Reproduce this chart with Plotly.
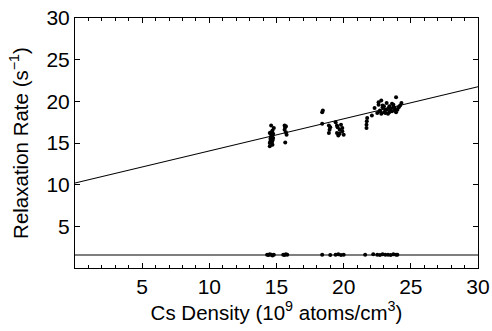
import plotly.graph_objects as go

# Upper branch (measured relaxation rates)
up_x = [14.5, 14.5, 14.55, 14.55, 14.6, 14.6, 14.6, 14.65, 14.65, 14.7, 14.7, 14.7, 14.75, 14.75, 14.8, 14.5, 14.6, 14.7,
        15.6, 15.65, 15.7, 15.75, 15.6, 15.7, 15.65,
        18.4, 18.45, 18.4,
        18.9, 18.95, 18.9, 19.0,
        19.4, 19.5, 19.55, 19.6, 19.7, 19.8, 19.9, 20.0, 19.5, 19.7, 19.9,
        21.7, 21.7, 21.72, 21.75,
        22.1, 22.3, 22.5, 22.6, 22.7, 22.8, 22.9, 23.0, 23.1, 23.2, 23.3, 23.4, 23.5, 23.6, 23.7, 23.8, 23.9, 24.0, 24.2, 24.3,
        22.7, 22.9, 23.1, 23.3, 23.5, 23.7, 23.9, 22.6, 22.8, 23.0, 23.2, 23.4, 23.6, 23.8, 24.1]
up_y = [14.6, 15.0, 15.2, 15.5, 15.7, 16.0, 16.3, 15.1, 15.8, 16.5, 15.4, 14.8, 16.1, 15.6, 16.8, 16.2, 17.1, 15.3,
        17.1, 16.9, 16.3, 16.0, 16.6, 17.0, 15.05,
        18.7, 18.9, 17.3,
        16.2, 16.6, 17.1, 16.9,
        17.5, 16.2, 16.9, 15.9, 16.6, 17.2, 16.4, 16.0, 17.1, 16.1, 16.8,
        16.8, 17.2, 17.6, 18.0,
        18.3, 19.2, 18.6, 19.6, 18.9, 20.1, 19.3, 18.7, 19.0, 19.8, 18.5, 19.4, 19.1, 18.8, 19.6, 19.2, 20.5, 19.0, 19.5, 19.8,
        18.8, 19.5, 18.6, 19.1, 18.9, 19.3, 18.7, 19.9, 18.5, 19.4, 19.0, 18.7, 19.7, 18.9, 19.3]

# Lower branch
lo_x = [14.3, 14.4, 14.5, 14.6, 14.7, 14.8, 15.5, 15.6, 15.7, 15.8, 18.4, 19.0, 19.4, 19.6, 19.8, 20.0,
        21.6, 22.2, 22.5, 22.7, 22.9, 23.1, 23.3, 23.5, 23.7, 23.9, 24.0]
lo_y = [1.6, 1.55, 1.65, 1.6, 1.5, 1.6, 1.6, 1.55, 1.65, 1.6, 1.6, 1.55, 1.6, 1.65, 1.55, 1.6,
        1.6, 1.65, 1.6, 1.55, 1.65, 1.6, 1.6, 1.55, 1.65, 1.6, 1.6]

# Fit lines
fit_x = [0, 30]
fit_up = [10.2, 21.75]
fit_lo = [1.56, 1.56]

tick_vals = [5, 10, 15, 20, 25, 30]
tick_text = ["5", "10", "15", "20", "25", "30"]

fig = go.Figure()
fig.add_trace(go.Scatter(x=fit_x, y=fit_up, mode="lines", line=dict(color="black", width=1.2)))
fig.add_trace(go.Scatter(x=fit_x, y=fit_lo, mode="lines", line=dict(color="black", width=1.2)))
fig.add_trace(go.Scatter(x=up_x, y=up_y, mode="markers", marker=dict(color="black", size=4)))
fig.add_trace(go.Scatter(x=lo_x, y=lo_y, mode="markers", marker=dict(color="black", size=4)))
# invisible trace to activate the top axis
fig.add_trace(go.Scatter(x=fit_x, y=fit_lo, mode="lines", line=dict(width=0), xaxis="x2",
                         hoverinfo="skip", opacity=0))

font = "Liberation Sans, Arial, Helvetica, sans-serif"
fig.update_layout(
    width=492, height=331,
    margin=dict(l=75, r=14, t=18, b=63, autoexpand=False),
    plot_bgcolor="white", paper_bgcolor="white",
    showlegend=False,
    font=dict(family=font, size=20, color="black"),
    xaxis=dict(range=[0, 30], tickvals=tick_vals, ticktext=tick_text, ticks="inside", ticklen=5,
               tickcolor="black", showline=True, linecolor="black", linewidth=1, mirror=True,
               showgrid=False, zeroline=False, automargin=False,
               minor=dict(ticks="inside", dtick=1, ticklen=3, tickcolor="black", showgrid=False),
               title=dict(text="Cs Density (10<sup>9</sup> atoms/cm<sup>3</sup>)", standoff=0,
                          font=dict(size=20.5, color="black")),
               tickfont=dict(size=21, color="black")),
    xaxis2=dict(range=[0, 30], overlaying="x", side="top", tickvals=tick_vals, ticks="inside", ticklen=5,
                tickcolor="black", showticklabels=False, showgrid=False, zeroline=False,
                showline=False, automargin=False,
                minor=dict(ticks="inside", dtick=1, ticklen=3, tickcolor="black", showgrid=False)),
    yaxis=dict(range=[0, 30], tickvals=tick_vals, ticktext=tick_text, ticks="inside", ticklen=5,
               tickcolor="black", showline=True, linecolor="black", linewidth=1, mirror="ticks",
               showgrid=False, zeroline=False, automargin=False,
               title=dict(text="Relaxation Rate (s<sup>−1</sup>)", standoff=12,
                          font=dict(size=20.5, color="black")),
               tickfont=dict(size=21, color="black")),
)
fig.write_html("out.html", post_script="document.body.style.margin='0';document.body.style.padding='0';",
               config={"displayModeBar": False})
